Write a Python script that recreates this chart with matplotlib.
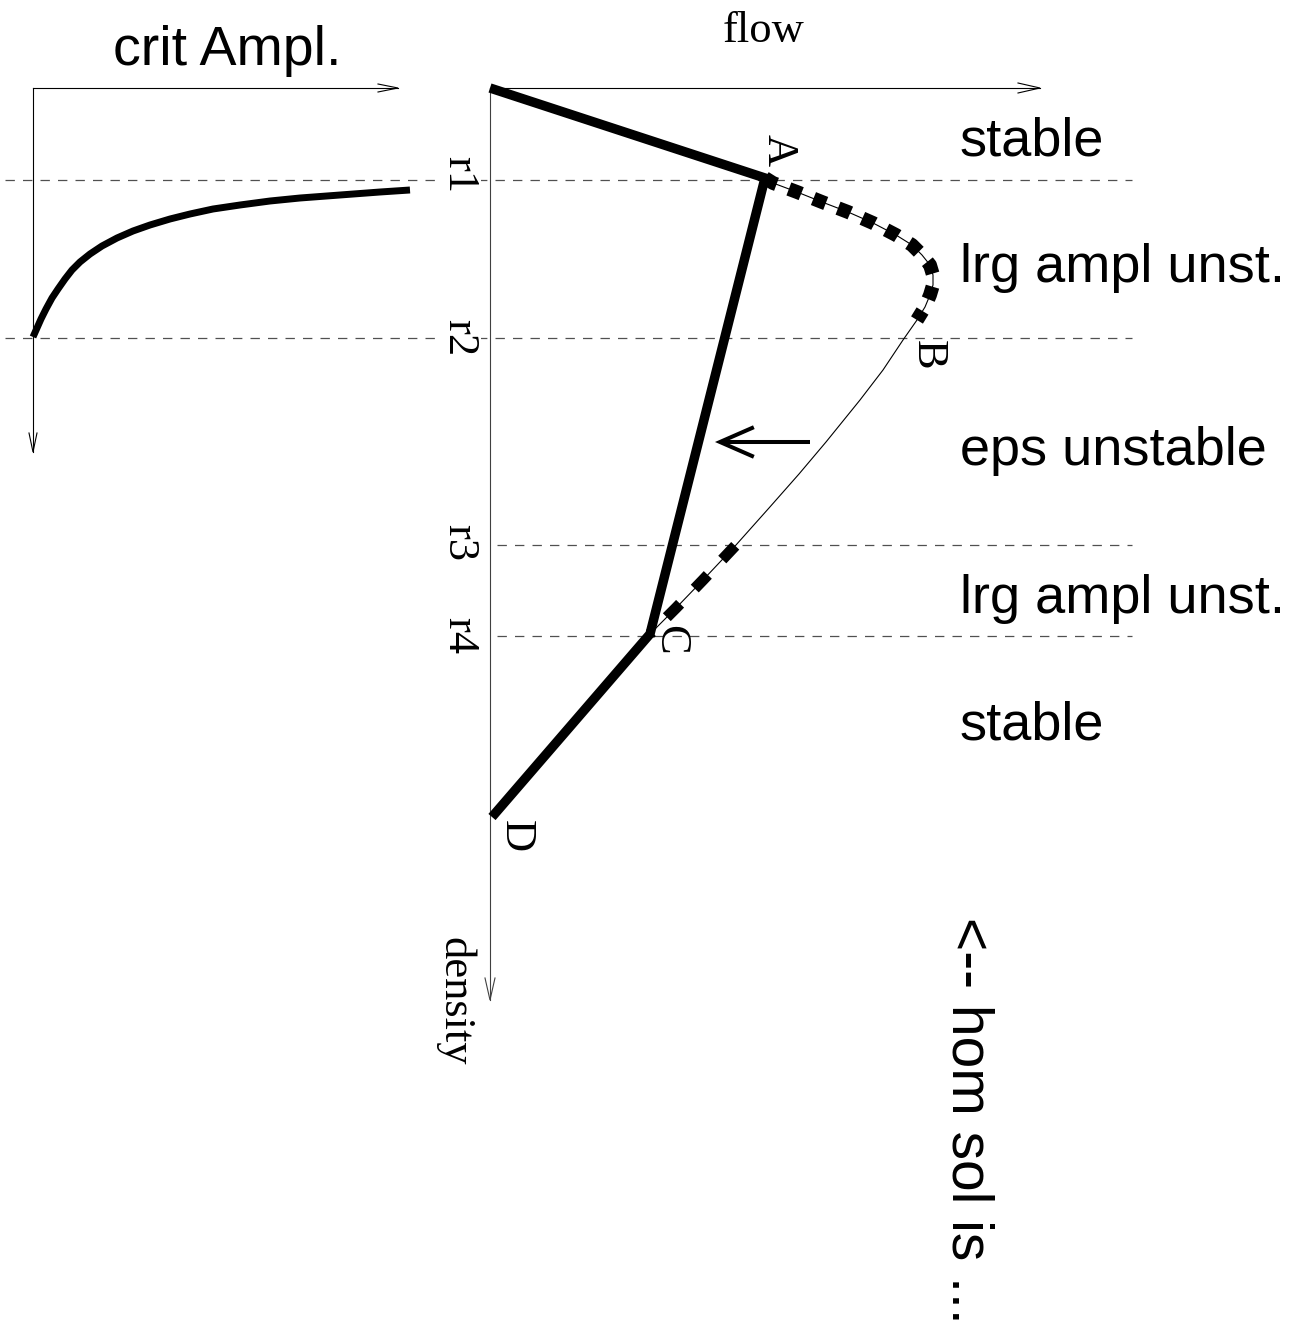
import matplotlib
matplotlib.use('Agg')
import matplotlib.pyplot as plt
import numpy as np

SANS = 'Liberation Sans'
SERIF = 'Liberation Serif'

# critical amplitude curve in the left panel (figure pixels)
crit_x = [33, 37, 41, 46, 52, 58, 65, 72, 80, 90, 102, 117, 133, 150, 170, 190, 213,
          240, 270, 300, 340, 380, 410]
crit_y = [337, 328, 319, 309, 298, 289, 279, 270, 262, 254, 246, 238, 231, 225, 219,
          214, 209, 205, 201, 198, 195, 192, 190]

# density thresholds
r_names = ['r1', 'r2', 'r3', 'r4']
r_y = [180, 338, 545, 636]
r_x0 = [5, 5, 497, 497]
r_x1 = 1132

# homogeneous branch O-A-C-D
branch_x = [490, 765, 650, 492]
branch_y = [88, 178, 634, 817]

# jam branch A-B-C
curve_x = [765, 773, 797, 822, 848, 873, 896, 912, 922, 930, 933, 933, 930, 925, 917,
           903, 883, 860, 826, 799, 769, 736, 703, 676, 650]
curve_y = [178, 183, 192, 202, 212, 223, 235, 245, 255, 265, 275, 285, 295, 307, 320,
           340, 370, 400, 442, 474, 508, 545, 580, 608, 634]

point_names = ['A', 'B', 'C', 'D']
point_x = [779, 928, 670, 516]
point_y = [150, 355, 640, 836]

region_labels = ['stable', 'lrg ampl unst.', 'eps unstable', 'lrg ampl unst.', 'stable']
region_base = [156, 282, 465, 613, 740]


def open_head(ax, tip, direction, length, half, **kw):
    d = np.asarray(direction, float)
    d = d / np.linalg.norm(d)
    n = np.array([-d[1], d[0]])
    base = np.asarray(tip, float) - d * length
    xs = [base[0] + n[0] * half, tip[0], base[0] - n[0] * half]
    ys = [base[1] + n[1] * half, tip[1], base[1] - n[1] * half]
    ax.plot(xs, ys, solid_joinstyle='miter', **kw)


def axis_arrow(ax, start, end, length=20, half=4.5, color='black', lw=0.8):
    ax.plot([start[0], end[0]], [start[1], end[1]], color=color, lw=lw)
    open_head(ax, end, (end[0] - start[0], end[1] - start[1]), length, half, color=color, lw=lw)


fig = plt.figure(figsize=(13.08, 13.43), dpi=100)
ax = fig.add_axes([0, 0, 1, 1])
ax.set_xlim(0, 1308)
ax.set_ylim(1343, 0)
ax.axis('off')

# left panel axes
axis_arrow(ax, (33, 88), (398, 88), length=20, half=4)
axis_arrow(ax, (33, 88), (33, 452), length=19, half=4)
ax.text(113, 65, 'crit Ampl.', family=SANS, fontsize=40, ha='left', va='baseline')

# main axes
axis_arrow(ax, (490, 88), (1040, 88), length=22, half=5)
axis_arrow(ax, (490, 88), (490, 1000), length=22, half=5, color='#404040')
ax.text(723, 42, 'flow', family=SERIF, fontsize=32, ha='left', va='baseline')
ax.text(455, 1001, 'density', family=SERIF, fontsize=32, rotation=-90,
        ha='center', va='center')

# threshold lines
for name, y, x0 in zip(r_names, r_y, r_x0):
    ax.plot([x0, r_x1], [y, y], color='#505050', lw=0.9, linestyle=(0, (7.5, 6.5)), zorder=1)

r_label_y = [175, 338, 543, 636]
for name, y in zip(r_names, r_label_y):
    ax.text(459, y, name, family=SERIF, fontsize=32, rotation=-90, ha='center', va='center',
            bbox=dict(boxstyle='square,pad=0.05', fc='white', ec='none'), zorder=2)

# critical amplitude
ax.plot(crit_x, crit_y, color='black', lw=5, solid_capstyle='butt',
        solid_joinstyle='round', zorder=3)

# jam branch: thin line with dotted unstable parts
cx = np.array(curve_x)
cy = np.array(curve_y)
ax.plot(cx, cy, color='black', lw=0.8, zorder=3)
upper = cy <= r_y[1] - 8
ax.plot(cx[upper], cy[upper], color='black', lw=10, linestyle=(0, (0.95, 0.95)),
        dash_capstyle='butt', zorder=3)
lower = cy >= r_y[2]
ax.plot(cx[lower], cy[lower], color='black', lw=8,
        linestyle=(3.5, (1.7, 1.9)), dash_capstyle='butt', zorder=3)

# homogeneous branch
ax.plot(branch_x, branch_y, color='black', lw=6.8, solid_joinstyle='miter',
        solid_capstyle='butt', zorder=4)

for name, x, y in zip(point_names, point_x, point_y):
    ax.text(x, y, name, family=SERIF, fontsize=32, rotation=-90, ha='center', va='center', zorder=5)

# drift arrow
ax.plot([810, 722], [442, 442], color='black', lw=2.9, solid_capstyle='butt')
open_head(ax, (720, 442), (-1, 0), 32, 14, color='black', lw=2.9)

# region labels
for text, yb in zip(region_labels, region_base):
    ax.text(960, yb, text, family=SANS, fontsize=39, ha='left', va='baseline')

ax.text(967, 1120, '<-- hom sol is ...', family=SANS, fontsize=41, rotation=-90,
        ha='center', va='center')

fig.savefig('out.png', dpi=100, facecolor='white')
